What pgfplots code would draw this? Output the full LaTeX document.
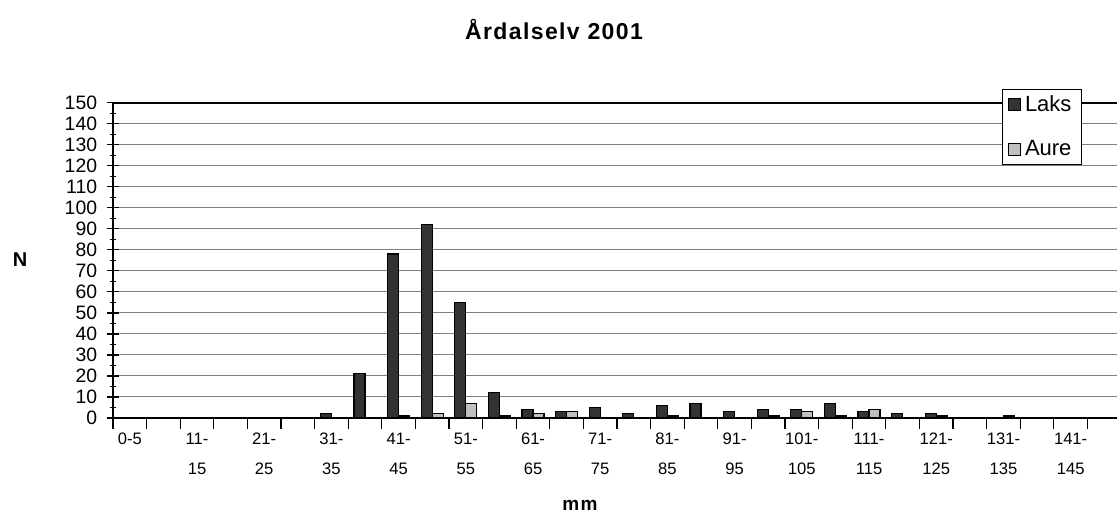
\documentclass[border=0pt]{standalone}
\usepackage{fontspec}
\setmainfont{Liberation Sans}
\usepackage{pgfplots}
\pgfplotsset{compat=1.18}
\definecolor{laks}{HTML}{333333}
\definecolor{aure}{HTML}{C0C0C0}
\definecolor{gridc}{HTML}{808080}
\begin{document}
\begin{tikzpicture}
\begin{axis}[
  at={(0,0)}, anchor=south west,
  scale only axis, width=502pt, height=157.65pt,
  xmin=-0.5, xmax=29.38, ymin=0, ymax=150,
  axis x line*=bottom, axis y line*=left,
  axis line style={line width=1pt, black},
  xtick={-0.5,0.5,...,29.5},
  x tick label as interval,
  xticklabels={0-5,,11-\\15,,21-\\25,,31-\\35,,41-\\45,,51-\\55,,61-\\65,,71-\\75,,81-\\85,,91-\\95,,101-\\105,,111-\\115,,121-\\125,,131-\\135,,141-\\145,},
  ytick={0,10,...,150},
  minor y tick num=1,
  ymajorgrids, grid style={gridc, line width=0.5pt},
  tick style={black, line width=0.6pt},
  tick align=center,
  major tick length=5.5pt, minor tick length=3pt,
  /pgf/number format/assume math mode=true,
  yticklabel style={font=\fontsize{9.7}{12}\selectfont, inner sep=0pt, anchor=east, xshift=-5pt},
  xticklabel style={font=\fontsize{8.3}{15.3}\selectfont, align=center, inner sep=0pt, anchor=north, yshift=-1.6pt},
  ybar=0pt, bar width=0.327,
  legend style={at={(axis description cs:0.9651,1.0435)}, anchor=north east, draw=black, line width=0.5pt, fill=white, font=\fontsize{11}{13}\selectfont, row sep=9pt, inner xsep=3pt, inner ysep=1pt, cells={anchor=west}},
  legend image code/.code={\draw[#1, line width=0.5pt] (0pt,-3pt) rectangle (6pt,3pt);},
]
\addplot[fill=laks, draw=black, line width=0.6pt, bar shift=-0.1635] coordinates {
  (6,2) (7,21) (8,78) (9,92) (10,55) (11,12) (12,4) (13,3) (14,5) (15,2)
  (16,6) (17,7) (18,3) (19,4) (20,4) (21,7) (22,3) (23,2) (24,2)
};
\addplot[fill=aure, draw=black, line width=0.6pt, bar shift=0.1635] coordinates {
  (8,1) (9,2) (10,7) (11,1) (12,2) (13,3) (16,1) (19,1) (20,3) (21,1)
  (22,4) (24,1) (26,1)
};
\legend{Laks,Aure}
\draw[black, line width=1pt] (rel axis cs:0,1) -- (rel axis cs:1,1);
\end{axis}
\node[font=\bfseries\fontsize{11.5}{13}\selectfont] at (220.5pt,194.5pt) {\addfontfeature{LetterSpace=6}Årdalselv 2001};
\node[font=\bfseries\fontsize{10}{12}\selectfont] at (-46.5pt,79pt) {N};
\node[font=\bfseries\fontsize{9.5}{12}\selectfont] at (233.5pt,-43.5pt) {\addfontfeature{LetterSpace=8}mm};
\pgfresetboundingbox
\useasboundingbox (-56.5pt,-48pt) rectangle (502pt,209pt);
\end{tikzpicture}
\end{document}
